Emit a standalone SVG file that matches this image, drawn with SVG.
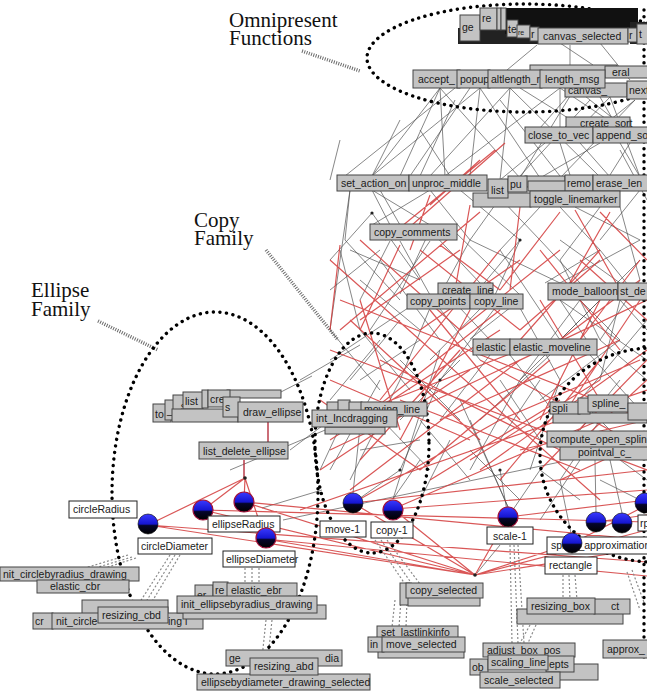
<svg xmlns="http://www.w3.org/2000/svg" width="647" height="692" viewBox="0 0 647 692">
<defs>
  <style>
    .note { font-family: "Liberation Serif", "Times New Roman", serif; font-size: 21px; fill: #111; }
    .box rect { fill: #c3c3c3; stroke: #444; stroke-width: 1; }
    .box text, .lbl text { font-family: "Liberation Sans", Arial, sans-serif; font-size: 10.5px; fill: #1a1a1a; }
    .lbl rect { fill: #fff; stroke: #222; stroke-width: 1; }
    .e { fill: none; stroke: #4d4d4d; stroke-width: 0.8; stroke-opacity: 0.85; }
    .r { fill: none; stroke: #d23a3a; stroke-width: 1.2; stroke-opacity: 0.85; }
    .rd { fill: none; stroke: #b02030; stroke-width: 1.3; }
    .dash { fill: none; stroke: #8a8a8a; stroke-width: 1.2; stroke-dasharray: 2 2; }
    .fam { fill: none; stroke: #000; stroke-width: 3.4; stroke-linecap: round; stroke-dasharray: 0.1 6.5; }
    .lead { fill: none; stroke: #6a6a6a; stroke-width: 3.5; stroke-dasharray: 1 1.4; }
    .ball { stroke: #000; stroke-width: 0.6; }
    .ballr { stroke: #a0103a; stroke-width: 1.2; }
  </style>
  <linearGradient id="sphere" x1="0" y1="0" x2="0" y2="1">
    <stop offset="0" stop-color="#3a3aff"/>
    <stop offset="0.5" stop-color="#1515d0"/>
    <stop offset="0.58" stop-color="#05052a"/>
    <stop offset="1" stop-color="#000"/>
  </linearGradient>
</defs>

<rect width="647" height="692" fill="#fff"/>

<!-- annotations -->
<g id="annotations">
  <text class="note" x="229" y="27">Omnipresent</text>
  <text class="note" x="229" y="45">Functions</text>
  <text class="note" x="194" y="227">Copy</text>
  <text class="note" x="194" y="245">Family</text>
  <text class="note" x="31" y="297">Ellipse</text>
  <text class="note" x="31" y="316">Family</text>
  <path class="lead" d="M302 51 L360 71 M266 250 L338 340 M98 321 L158 350"/>
</g>

<!-- connectors -->
<g id="connectors">
  <path class="e" d="
    M537 45 L507 70 M570 45 L570 70 M560 43 L593 65 M600 43 L630 80
    M440 88 L372 176 M440 88 L400 176 M440 88 L445 176 M440 88 L520 178
    M480 88 L372 176 M480 88 L470 176 M480 88 L540 178 M510 88 L430 176
    M510 88 L500 180 M510 88 L600 177 M560 88 L445 176 M560 88 L560 128
    M560 88 L620 128 M575 88 L520 178 M575 88 L640 140 M610 97 L580 128
    M610 97 L640 177 M635 100 L600 128 M635 100 L560 178 M455 88 L345 176
    M575 88 L540 128 M520 88 L568 118 M600 97 L612 118 M470 88 L410 176
    M545 143 L500 180 M560 143 L575 191 M580 143 L610 177 M600 143 L540 178
    M620 143 L640 177 M630 143 L600 191
    M350 190 L345 240 M372 190 L390 225 M372 190 L430 225 M350 190 L330 330
    M430 190 L372 225 M430 190 L470 240 M460 190 L520 240 M500 198 L470 240
    M500 198 L540 240 M540 207 L500 250 M560 207 L600 250 M575 207 L640 240
    M600 207 L560 260 M620 207 L640 280 M640 190 L600 240 M380 190 L400 225
    M400 241 L430 295 M430 241 L370 330 M455 232 L520 295 M470 240 L440 295
    M520 240 L495 295 M540 240 L580 283 M560 240 L620 283 M600 250 L545 283
    M640 240 L560 283 M640 260 L600 300 M340 250 L360 330 M360 280 L420 330
    M380 260 L440 340 M500 250 L560 340 M580 300 L620 340 M600 300 L560 340
    M620 300 L647 330 M430 308 L400 380 M460 308 L490 340 M495 308 L440 380
    M520 308 L560 380 M580 300 L520 380 M620 300 L600 380 M647 320 L580 400
    M490 355 L440 420 M510 355 L560 420 M550 355 L480 420 M590 355 L640 410
    M380 340 L330 400 M400 380 L350 480 M440 380 L400 470 M520 380 L470 470
    M560 380 L530 470 M600 420 L560 480 M595 460 L596 512 M610 460 L622 513
    M580 460 L540 520 M620 460 L647 480 M360 427 L353 493 M340 427 L320 470
    M380 418 L430 470 M470 420 L508 507 M420 460 L393 499 M440 350 L393 499
    M460 400 L508 507 M353 503 L400 470 M508 517 L500 470 M508 517 L540 470
    M573 543 L560 480 M350 250 L420 280 M330 290 L380 250 M600 340 L647 380
    M560 300 L647 360 M420 340 L360 380 M330 360 L420 300 M620 340 L540 400
    M300 380 L360 345 M290 450 L330 420 M279 393 L312 376 M262 508 L322 490
    M283 520 L560 462 M230 470 L330 428 M500 545 L477 573
    M400 120 L372 176 M420 130 L450 176 M330 180 L340 140
    M345 240 L400 300 M372 213 L330 260 M372 213 L420 280 M390 241 L360 300
    M430 230 L480 283 M430 230 L400 294 M470 240 L560 283 M520 240 L470 300
    M560 260 L600 340 M600 250 L640 300 M640 280 L600 340 M360 330 L410 390
    M400 320 L350 380 M440 309 L480 360 M480 309 L430 360 M520 300 L470 339
    M560 300 L600 360 M600 300 L520 380 M330 330 L380 390 M400 360 L460 420
    M460 360 L400 420 M500 380 L540 440 M540 380 L500 440 M580 400 L620 440
    M620 380 L580 430 M450 440 L420 500 M470 450 L520 500 M540 470 L580 500
    M600 480 L640 500 M420 420 L470 480 M360 450 L420 440 M330 470 L380 380
    M455 100 L420 176 M500 100 L560 176 M590 100 L520 176 M620 150 L647 200" />
  <path class="r" d="
    M505 143 L395 240 M495 150 L385 240 M480 160 L430 205 M430 195 L410 250
    M480 212 L340 330 M470 205 L455 290 M520 207 L510 290 M560 212 L500 290
    M575 210 L620 290 M600 212 L647 260 M610 212 L560 300 M340 245 L330 330
    M400 245 L360 330 M440 245 L500 290 M500 250 L380 400 M540 250 L620 350
    M600 250 L520 340 M640 260 L580 340 M350 320 L480 440 M360 300 L400 430
    M430 310 L520 420 M470 310 L400 440 M500 310 L360 420 M540 300 L600 400
    M600 300 L540 420 M640 300 L560 420 M330 350 L647 470 M340 300 L647 420
    M420 340 L600 500 M550 360 L420 470 M600 360 L500 480 M647 360 L540 470
    M480 360 L647 450 M320 470 L470 370 M350 490 L520 360 M320 400 L420 470
    M300 510 L647 390 M330 450 L647 300
    M330 260 L420 340 M360 240 L460 330 M420 250 L520 330 M460 250 L360 320
    M520 260 L420 330 M560 250 L460 330 M600 260 L520 330 M640 280 L560 340
    M580 260 L647 320 M330 380 L470 440 M340 420 L520 350 M380 360 L560 450
    M440 420 L620 340 M500 420 L640 360 M520 450 L647 420 M560 460 L647 380
    M470 460 L600 380 M400 400 L580 470 M330 440 L500 330 M360 460 L460 350
    M430 480 L560 400 M560 480 L647 440 M480 470 L647 350
    M148 525 L245 478 M203 510 L245 478 M244 502 L245 478 M265 539 L245 478
    M148 525 L475 575 M203 510 L475 575 M244 502 L475 575 M265 539 L475 575
    M353 503 L475 575 M393 509 L475 575 M508 517 L475 575 M573 543 L475 575
    M475 575 L647 548 M475 575 L647 530 M244 502 L647 540 M203 510 L647 522
    M265 539 L647 576 M353 503 L647 470 M393 509 L647 490 M353 503 L500 420
    M393 509 L600 420 M508 517 L647 500 M573 543 L647 505 M596 522 L647 515
    M148 525 L647 562" />
  <path class="rd" d="M268 422 L268 443 M244 460 L244 478"/>
  <path class="dash" d="
    M128 555 L85 568 M132 557 L95 568 M136 558 L105 568
    M170 555 L138 605 M175 555 L144 605 M180 555 L150 605
    M245 568 L245 585 M252 568 L252 585 M259 568 L259 585
    M375 540 L405 584 M381 540 L412 584 M387 540 L420 584
    M395 600 L392 627 M401 600 L399 627 M407 600 L406 627
    M510 545 L512 643 M514 545 L518 643 M518 545 L524 643
    M563 575 L563 600 M569 575 L570 600 M575 575 L577 600
    M530 625 L520 643 M536 625 L528 643
    M266 620 L262 658 M272 620 L268 658
    M632 570 L645 605 M627 572 L640 610" />
  <g fill="#222">
    <circle cx="372" cy="213" r="1.6"/><circle cx="430" cy="230" r="1.6"/>
    <circle cx="520" cy="240" r="1.6"/><circle cx="560" cy="340" r="1.6"/>
    <circle cx="440" cy="380" r="1.6"/><circle cx="475" cy="575" r="1.8"/>
    <circle cx="245" cy="478" r="1.8"/><circle cx="400" cy="470" r="1.6"/>
    <circle cx="500" cy="470" r="1.6"/><circle cx="600" cy="420" r="1.6"/>
  </g>
</g>

<!-- family outlines -->
<g id="families">
  <ellipse class="fam" cx="525" cy="58" rx="158" ry="54"/>
  <ellipse class="fam" cx="215" cy="493" rx="103" ry="181"/>
  <ellipse class="fam" cx="372" cy="443" rx="57" ry="110"/>
  <ellipse class="fam" cx="652" cy="455" rx="112" ry="107"/>
  <path class="fam" d="M644 10 L644 660"/>
</g>

<!-- omnipresent cluster -->
<g id="n-omni-stack">
  <rect x="458" y="28" width="84" height="16" fill="#222"/>
  <rect x="505" y="8" width="133" height="26" fill="#111"/>
  <rect x="630" y="22" width="17" height="22" fill="#222"/>
  <g class="box">
    <rect x="460" y="15" width="20" height="26"/><text x="462" y="31">ge</text>
    <rect x="480" y="8" width="17" height="22"/><text x="482" y="22">re</text>
    <rect x="497" y="8" width="4" height="22"/><rect x="501" y="8" width="5" height="22"/>
    <rect x="507" y="20" width="11" height="17"/><text x="508" y="33">te</text>
    <rect x="517" y="25" width="13" height="13"/><text x="518" y="35" style="font-size:7px">re</text>
    <rect x="530" y="27" width="9" height="14"/><text x="531" y="38">r</text>
  </g>
</g>
<g id="n-canvas_selected" class="box"><rect x="538" y="28" width="90" height="16"/><text x="543" y="40">canvas_selected</text></g>
<g id="n-omni-right" class="box">
  <rect x="628" y="28" width="9" height="14"/><text x="629" y="39">r</text>
  <rect x="637" y="24" width="12" height="20"/><text x="639" y="38">t</text>
</g>
<g id="n-omni-row" class="box">
  <rect x="530" y="65" width="87" height="12"/>
  <rect x="605" y="66" width="45" height="12"/><text x="612" y="76">eral</text>
  <rect x="565" y="83" width="62" height="14"/><text x="568" y="94">canvas_</text>
  <rect x="627" y="81" width="25" height="18"/><text x="629" y="94">next</text>
</g>
<g id="n-accept" class="box"><rect x="413" y="70" width="47" height="18"/><text x="418" y="83">accept_</text></g>
<g id="n-popup" class="box"><rect x="457" y="70" width="33" height="18"/><text x="460" y="83">popup</text></g>
<g id="n-altlength" class="box"><rect x="488" y="70" width="54" height="18"/><text x="491" y="83">altlength_r</text></g>
<g id="n-length_msg" class="box"><rect x="540" y="70" width="65" height="18"/><text x="545" y="83">length_msg</text></g>

<!-- middle nodes -->
<g id="n-create_sort" class="box"><rect x="566" y="117" width="64" height="12"/><text x="580" y="127">create_sort</text></g>
<g id="n-close_to_vec" class="box"><rect x="525" y="127" width="68" height="16"/><text x="528" y="139">close_to_vec</text></g>
<g id="n-append" class="box"><rect x="593" y="127" width="56" height="16"/><text x="596" y="139">append_so</text></g>

<g id="n-set_action_on" class="box"><rect x="337" y="175" width="72" height="16"/><text x="341" y="187">set_action_on</text></g>
<g id="n-unproc_middle" class="box"><rect x="409" y="175" width="78" height="16"/><text x="412" y="187">unproc_middle</text></g>
<g id="n-mid-stack" class="box">
  <rect x="473" y="193" width="58" height="14"/>
  <rect x="525" y="176" width="40" height="11"/>
  <rect x="528" y="181" width="38" height="10"/>
</g>
<g id="n-list" class="box"><rect x="488" y="179" width="20" height="19"/><text x="491" y="194">list</text></g>
<g id="n-pu" class="box"><rect x="508" y="176" width="19" height="16"/><text x="510" y="188">pu</text></g>
<g id="n-remo" class="box"><rect x="565" y="175" width="28" height="16"/><text x="567" y="187">remo</text></g>
<g id="n-erase_len" class="box"><rect x="593" y="175" width="58" height="16"/><text x="596" y="187">erase_len</text></g>
<g id="n-toggle_linemarker" class="box"><rect x="530" y="191" width="90" height="16"/><text x="534" y="203">toggle_linemarker</text></g>

<g id="n-copy_comments" class="box"><rect x="370" y="224" width="87" height="16"/><text x="374" y="236">copy_comments</text></g>
<g id="n-create_line" class="box"><rect x="438" y="283" width="55" height="14"/><text x="442" y="294">create_line</text></g>
<g id="n-copy_points" class="box"><rect x="407" y="294" width="63" height="15"/><text x="410" y="305">copy_points</text></g>
<g id="n-copy_line" class="box"><rect x="470" y="294" width="53" height="15"/><text x="474" y="305">copy_line</text></g>
<g id="n-mode_balloon" class="box"><rect x="548" y="283" width="70" height="17"/><text x="552" y="295">mode_balloon</text></g>
<g id="n-st_de" class="box"><rect x="618" y="283" width="33" height="17"/><text x="620" y="295">st_de</text></g>
<g id="n-elastic" class="box"><rect x="473" y="339" width="37" height="16"/><text x="476" y="351">elastic</text></g>
<g id="n-elastic_moveline" class="box"><rect x="510" y="339" width="87" height="16"/><text x="513" y="351">elastic_moveline</text></g>

<!-- ellipse family nodes -->
<g id="n-ellipse-stack" class="box">
  <rect x="153" y="404" width="18" height="18"/><text x="155" y="418">to</text>
  <rect x="165" y="400" width="10" height="20"/><text x="167" y="414">_l</text>
  <rect x="173" y="395" width="14" height="20"/><text x="175" y="410">_s</text>
  <rect x="227" y="390" width="54" height="8"/>
  <rect x="183" y="392" width="20" height="17"/><text x="185" y="405">list</text>
  <rect x="202" y="390" width="6" height="18"/>
  <rect x="208" y="390" width="22" height="17"/><text x="210" y="403">cre</text>
  <rect x="172" y="409" width="66" height="13"/>
  <rect x="223" y="397" width="17" height="20"/><text x="225" y="411">s</text>
</g>
<g id="n-draw_ellipse" class="box"><rect x="238" y="402" width="65" height="20"/><text x="243" y="416">draw_ellipse</text></g>
<g id="n-list_delete_ellipse" class="box"><rect x="199" y="442" width="89" height="17"/><text x="203" y="455">list_delete_ellipse</text></g>

<!-- copy family nodes -->
<g id="n-copy-stack" class="box">
  <rect x="325" y="427" width="60" height="7"/>
  <rect x="327" y="402" width="12" height="13"/>
  <rect x="338" y="400" width="12" height="15"/>
  <rect x="349" y="402" width="13" height="13"/>
</g>
<g id="n-moving_line" class="box"><rect x="361" y="402" width="66" height="14"/><text x="364" y="413">moving_line</text></g>
<g id="n-int_Incdragging" class="box"><rect x="312" y="410" width="85" height="17"/><text x="316" y="422">int_Incdragging</text></g>

<!-- spline cluster -->
<g id="n-spline-stack" class="box">
  <rect x="553" y="413" width="94" height="10" fill="#555"/>
  <rect x="550" y="402" width="30" height="12"/><text x="552" y="412">spli</text>
  <rect x="578" y="398" width="12" height="16"/>
  <rect x="588" y="395" width="40" height="17"/><text x="592" y="407">spline_</text>
  <rect x="628" y="403" width="20" height="17"/>
</g>
<g id="n-pointval" class="box"><rect x="560" y="445" width="90" height="15"/><text x="578" y="456">pointval_c_</text></g>
<g id="n-compute_open_spline" class="box"><rect x="547" y="431" width="103" height="16"/><text x="550" y="443">compute_open_spline</text></g>

<!-- bottom nodes -->
<g id="n-circle-bottom" class="box">
  <rect x="0" y="567" width="139" height="14"/><text x="3" y="578">nit_circlebyradius_drawing</text>
  <rect x="37" y="580" width="92" height="13"/><text x="50" y="590">elastic_cbr</text>
  <rect x="82" y="600" width="86" height="14"/>
  <rect x="33" y="613" width="20" height="16"/><text x="35" y="625">cr</text>
  <rect x="52" y="613" width="151" height="16"/><text x="56" y="625">nit_circle</text><text x="168" y="625">ing l</text>
</g>
<g id="n-resizing_cbd" class="box"><rect x="98" y="607" width="70" height="16"/><text x="102" y="619">resizing_cbd</text></g>
<g id="n-ellipse-bottom" class="box">
  <rect x="183" y="605" width="143" height="14"/>
  <rect x="195" y="585" width="18" height="20"/><text x="197" y="599">er</text>
  <rect x="213" y="582" width="15" height="15"/><text x="215" y="594">re</text>
  <rect x="227" y="583" width="70" height="14"/><text x="231" y="594">elastic_ebr</text>
</g>
<g id="n-init_ellipsebyradius" class="box"><rect x="177" y="596" width="140" height="17"/><text x="181" y="608">init_ellipsebyradius_drawing</text></g>

<g id="n-ge-dia" class="box"><rect x="226" y="650" width="116" height="16"/><text x="229" y="662">ge</text><text x="325" y="662">dia</text></g>
<g id="n-ellipsebydiameter" class="box"><rect x="197" y="674" width="173" height="16"/><text x="201" y="686">ellipsebydiameter_drawing_selected</text></g>
<g id="n-resizing_abd" class="box"><rect x="250" y="658" width="68" height="17"/><text x="254" y="670">resizing_abd</text></g>

<g id="n-copy_selected" class="box">
  <rect x="400" y="583" width="10" height="22"/>
  <rect x="408" y="596" width="72" height="10"/>
  <rect x="406" y="583" width="77" height="15"/><text x="410" y="594">copy_selected</text>
</g>
<g id="n-set_lastlinkinfo" class="box"><rect x="377" y="626" width="81" height="13"/><text x="381" y="636">set_lastlinkinfo</text></g>
<g id="n-move_selected" class="box">
  <rect x="378" y="650" width="86" height="8"/>
  <rect x="368" y="637" width="16" height="15"/><text x="370" y="648">in</text>
  <rect x="382" y="637" width="83" height="15"/><text x="386" y="648">move_selected</text>
</g>
<g id="n-resizing_box" class="box">
  <rect x="517" y="609" width="106" height="15"/>
  <rect x="594" y="599" width="36" height="15"/><text x="611" y="610">ct</text>
  <rect x="527" y="598" width="68" height="16"/><text x="531" y="610">resizing_box</text>
</g>
<g id="n-scale-stack" class="box">
  <rect x="483" y="643" width="92" height="14"/><text x="487" y="654">adjust_box_pos</text>
  <rect x="470" y="659" width="18" height="16"/><text x="472" y="671">ob</text>
  <rect x="556" y="664" width="42" height="16"/>
  <rect x="546" y="656" width="28" height="16"/><text x="549" y="668">epts</text>
  <rect x="488" y="655" width="60" height="15"/><text x="491" y="666">scaling_line</text>
</g>
<g id="n-scale_selected" class="box"><rect x="480" y="672" width="80" height="16"/><text x="484" y="684">scale_selected</text></g>
<g id="n-approx" class="box"><rect x="603" y="640" width="46" height="18"/><text x="607" y="653">approx_</text></g>

<!-- blue sphere nodes with labels -->
<g id="n-circleRadius" class="lbl"><rect x="69" y="501" width="68" height="17"/><text x="73" y="513">circleRadius</text></g>
<g id="n-circleDiameter" class="lbl"><rect x="138" y="538" width="74" height="16"/><text x="141" y="550">circleDiameter</text><circle class="ball" cx="148" cy="524" r="10" fill="url(#sphere)"/></g>
<g id="n-ellipse-left"><circle class="ballr" cx="203" cy="510" r="10" fill="url(#sphere)"/></g>
<g id="n-ellipseRadius" class="lbl"><circle class="ballr" cx="244" cy="502" r="10" fill="url(#sphere)"/><rect x="208" y="516" width="72" height="16"/><text x="212" y="528">ellipseRadius</text></g>
<g id="n-ellipseDiameter" class="lbl"><circle class="ballr" cx="266" cy="538" r="10" fill="url(#sphere)"/><rect x="223" y="551" width="72" height="16"/><text x="226" y="563">ellipseDiameter</text></g>
<g id="n-move-1" class="lbl"><circle class="ball" cx="353" cy="503" r="10" fill="url(#sphere)"/><rect x="320" y="521" width="46" height="16"/><text x="325" y="533">move-1</text></g>
<g id="n-copy-1" class="lbl"><circle class="ballr" cx="393" cy="510" r="10" fill="url(#sphere)"/><rect x="371" y="522" width="42" height="16"/><text x="376" y="534">copy-1</text></g>
<g id="n-scale-1" class="lbl"><circle class="ballr" cx="508" cy="517" r="10" fill="url(#sphere)"/><rect x="487" y="527" width="46" height="17"/><text x="493" y="540">scale-1</text></g>
<g id="n-right-balls"><circle class="ball" cx="596" cy="522" r="10" fill="url(#sphere)"/><circle class="ball" cx="622" cy="523" r="10" fill="url(#sphere)"/><circle class="ball" cx="645" cy="503" r="10" fill="url(#sphere)"/></g>
<g id="n-spline_approximation" class="lbl"><rect x="547" y="537" width="102" height="17"/><text x="551" y="549">spline_approximation</text></g>
<g id="n-rectangle" class="lbl"><circle class="ball" cx="572" cy="543" r="10" fill="url(#sphere)"/><rect x="545" y="557" width="52" height="17"/><text x="549" y="569">rectangle</text></g>
<g id="n-edge-label" class="lbl"><rect x="638" y="515" width="12" height="16"/><text x="640" y="527">rp</text></g>
</svg>
